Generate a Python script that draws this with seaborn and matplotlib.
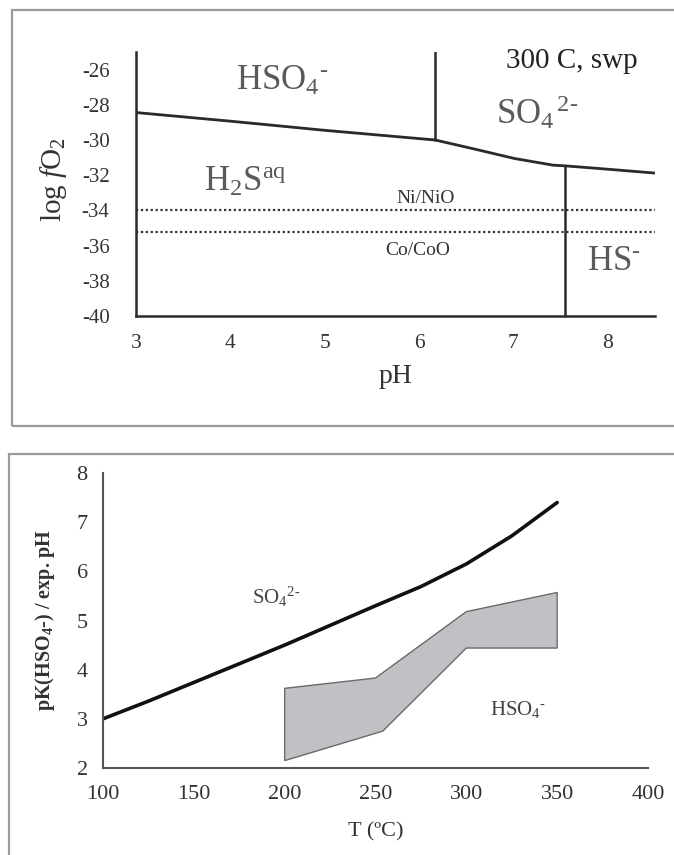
import matplotlib
matplotlib.use("Agg")
import matplotlib.pyplot as plt
import seaborn as sns
import pandas as pd
from matplotlib.patches import Rectangle

# ---------------- data: top panel (300 C, swp) ----------------
ph_boundary = [3.0, 4.0, 5.0, 6.17, 6.56, 7.01, 7.42, 7.55, 8.0, 8.5]
logfo2_boundary = [-28.44, -28.93, -29.45, -30.0, -30.48, -31.05, -31.43, -31.47, -31.66, -31.88]
sulfate_ph = [6.17, 6.17]
sulfate_logfo2 = [-30.0, -25.0]
hs_ph = [7.55, 7.55]
hs_logfo2 = [-40.0, -31.47]
buffer_names = ["Ni/NiO", "Co/CoO"]
buffer_logfo2 = [-33.95, -35.25]
ph_ticks = [3, 4, 5, 6, 7, 8]
logfo2_ticks = [-40, -38, -36, -34, -32, -30, -28, -26]

# ---------------- data: bottom panel ----------------
temp_c = [100, 125, 150, 175, 200, 225, 250, 275, 300, 325, 350]
pk_hso4 = [3.0, 3.36, 3.74, 4.12, 4.5, 4.9, 5.3, 5.69, 6.15, 6.72, 7.4]
exp_upper_t = [200, 250, 300, 350]
exp_upper_ph = [3.62, 3.83, 5.18, 5.57]
exp_lower_t = [200, 254, 300, 350]
exp_lower_ph = [2.15, 2.75, 4.44, 4.44]
t_ticks = [100, 150, 200, 250, 300, 350, 400]
pk_ticks = [2, 3, 4, 5, 6, 7, 8]

sns.set_theme(style="white")
plt.rcParams["font.family"] = ["Liberation Serif", "DejaVu Serif"]
plt.rcParams["mathtext.fontset"] = "custom"
plt.rcParams["mathtext.rm"] = "Liberation Serif"
plt.rcParams["mathtext.it"] = "Liberation Serif:italic"
plt.rcParams["mathtext.bf"] = "Liberation Serif:bold"

W, H = 674, 855
fig = plt.figure(figsize=(W / 100, H / 100), dpi=100)
fig.patch.set_facecolor("white")

# panel frames
fig.add_artist(Rectangle((12 / W, 1 - 426 / H), 1.2, (426 - 10) / H, transform=fig.transFigure,
                         fill=False, edgecolor="#9a9a9a", linewidth=1.6))
fig.add_artist(Rectangle((9 / W, -0.2), 1.2, 0.2 + 1 - 454 / H, transform=fig.transFigure,
                         fill=False, edgecolor="#9a9a9a", linewidth=1.6))

# ================= top panel =================
ax1 = fig.add_axes([136 / W, 1 - 316 / H, (655 - 136) / W, (316 - 52) / H])
ax1.set_facecolor("none")
line_c = "#2a2a2a"
df_b = pd.DataFrame({"pH": ph_boundary, "logfO2": logfo2_boundary})
sns.lineplot(data=df_b, x="pH", y="logfO2", ax=ax1, color=line_c, lw=2.0, sort=False, estimator=None)
sns.lineplot(x=sulfate_ph, y=sulfate_logfo2, ax=ax1, color=line_c, lw=1.8, sort=False, estimator=None)
sns.lineplot(x=hs_ph, y=hs_logfo2, ax=ax1, color=line_c, lw=1.8, sort=False, estimator=None)
for val in buffer_logfo2:
    ax1.axhline(val, color="#333333", lw=1.6, ls=(0, (1, 1.2)))
ax1.set_xlim(3, 8.5)
ax1.set_ylim(-40, -25)
ax1.set_xticks(ph_ticks)
ax1.set_xticklabels([str(t) for t in ph_ticks], fontsize=15.5, color="#333333")
ax1.set_yticks(logfo2_ticks)
ax1.set_yticklabels([str(t) for t in logfo2_ticks], fontsize=15, color="#333333")
ax1.tick_params(axis="x", length=0, pad=13)
ax1.tick_params(axis="y", length=0, pad=19)
for s in ["top", "right"]:
    ax1.spines[s].set_visible(False)
for s in ["left", "bottom"]:
    ax1.spines[s].set_color(line_c)
    ax1.spines[s].set_linewidth(1.8)
ax1.set_xlabel("pH", fontsize=20, color="#333333")
ax1.set_ylabel(r"log $\mathit{f}$O$_2$", fontsize=21, color="#333333")
ax1.xaxis.set_label_coords(0.5, -0.18)
ax1.yaxis.set_label_coords(-0.13, 0.515)

sp_c = "#5a5a5a"
ax1.text(4.06, -26.67, r"HSO$_4$$^{\text{-}}$", fontsize=25, color=sp_c, ha="left", va="center")
ax1.text(6.81, -28.48, r"SO$_4$$^{\,\text{2-}}$", fontsize=25, color=sp_c, ha="left", va="center")
ax1.text(3.72, -32.4, r"H$_2$S$^{\mathrm{aq}}$", fontsize=25, color=sp_c, ha="left", va="center")
ax1.text(7.78, -36.9, r"HS$^{\text{-}}$", fontsize=25, color=sp_c, ha="left", va="center")
ax1.text(6.92, -25.5, "300 C, swp", fontsize=21, color="#222222", ha="left", va="center")
ax1.text(6.07, -33.35, buffer_names[0], fontsize=14, color="#333333", ha="center", va="center")
ax1.text(5.98, -36.26, buffer_names[1], fontsize=14, color="#333333", ha="center", va="center")

# ================= bottom panel =================
ax2 = fig.add_axes([103 / W, 1 - 768 / H, (648 - 103) / W, (768 - 473) / H])
ax2.set_facecolor("none")
poly_t = exp_upper_t + exp_lower_t[::-1]
poly_ph = exp_upper_ph + exp_lower_ph[::-1]
ax2.fill(poly_t, poly_ph, facecolor="#c1c1c5", edgecolor="#6a6a6a", linewidth=1.0)
df_pk = pd.DataFrame({"T": temp_c, "pK": pk_hso4})
sns.lineplot(data=df_pk, x="T", y="pK", ax=ax2, color="#111111", lw=2.6, estimator=None)
ax2.set_xlim(100, 400)
ax2.set_ylim(2, 8)
ax2.set_xticks(t_ticks)
ax2.set_xticklabels([str(t) for t in t_ticks], fontsize=16, color="#333333")
ax2.set_yticks(pk_ticks)
ax2.set_yticklabels([str(t) for t in pk_ticks], fontsize=16, color="#333333")
ax2.tick_params(axis="both", direction="out", length=4, width=1.4, color="#555555")
ax2.tick_params(axis="x", pad=8)
ax2.tick_params(axis="y", pad=7)
for s in ["top", "right"]:
    ax2.spines[s].set_visible(False)
for s in ["left", "bottom"]:
    ax2.spines[s].set_color("#555555")
    ax2.spines[s].set_linewidth(1.5)
ax2.set_xlabel("T (\u00baC)", fontsize=16, color="#333333")
ax2.set_ylabel(r"pK(HSO$_\mathbf{4}$-) / exp. pH", fontsize=14.5, fontweight="bold", color="#333333")
ax2.xaxis.set_label_coords(0.5, -0.185)
ax2.yaxis.set_label_coords(-0.085, 0.5)
ax2.text(182, 5.47, r"SO$_4$$^{\text{2-}}$", fontsize=15, color="#444444", ha="left", va="center")
ax2.text(313, 3.2, r"HSO$_4$$^{\text{-}}$", fontsize=15, color="#444444", ha="left", va="center")

fig.savefig("out.png", dpi=100, facecolor="white")
